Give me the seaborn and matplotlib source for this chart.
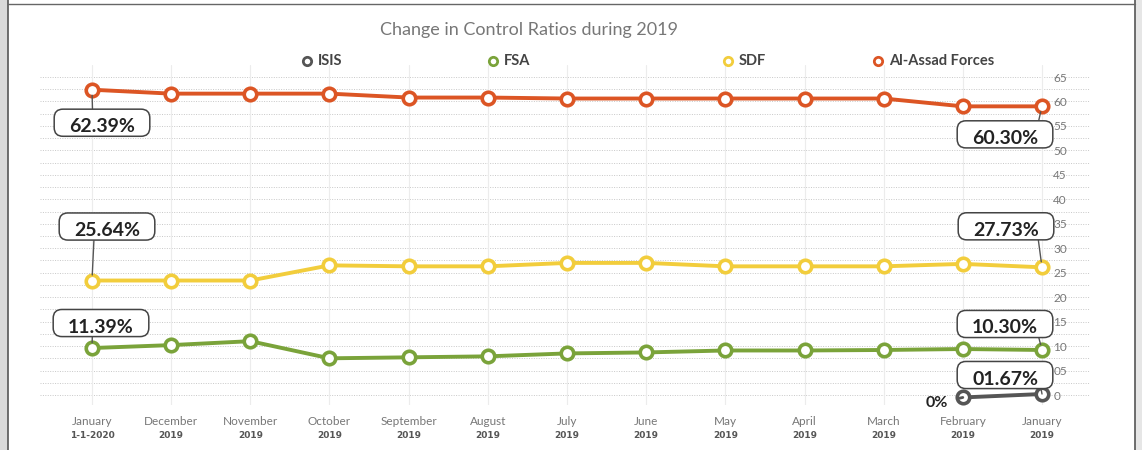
import numpy as np
import pandas as pd
import matplotlib
matplotlib.use("Agg")
import matplotlib.pyplot as plt
from matplotlib.lines import Line2D
from matplotlib.patches import Rectangle
import seaborn as sns

# ---------------- data ----------------
months = ["January", "December", "November", "October", "September", "August",
          "July", "June", "May", "April", "March", "February", "January"]
years = ["1-1-2020", "2019", "2019", "2019", "2019", "2019", "2019",
         "2019", "2019", "2019", "2019", "2019", "2019"]
assad = [62.4, 61.6, 61.6, 61.6, 60.8, 60.8, 60.6, 60.6, 60.6, 60.6, 60.6, 59.0, 59.0]
sdf = [23.4, 23.4, 23.4, 26.5, 26.3, 26.3, 27.0, 27.0, 26.3, 26.3, 26.3, 26.8, 26.1]
fsa = [9.6, 10.2, 11.0, 7.5, 7.7, 7.9, 8.5, 8.7, 9.1, 9.1, 9.2, 9.4, 9.2]
isis = [np.nan] * 11 + [-0.5, 0.2]
series_names = ["ISIS", "FSA", "SDF", "Al-Assad Forces"]
yticks = [0, 5, 10, 15, 20, 25, 30, 35, 40, 45, 50, 55, 60, 65]
ytick_labels = ["0", "05", "10", "15", "20", "25", "30", "35", "40", "45", "50", "55", "60", "65"]
title = "Change in Control Ratios during 2019"

colors = {"ISIS": "#555555", "FSA": "#7aa33a", "SDF": "#f2cd3c", "Al-Assad Forces": "#dc5524"}

rows = []
for name, vals in zip(series_names, [isis, fsa, sdf, assad]):
    for i, v in enumerate(vals):
        if not np.isnan(v):
            rows.append({"x": i, "value": v, "series": name})
df = pd.DataFrame(rows)

# ---------------- figure ----------------
sns.set_theme(style="white")
plt.rcParams["font.family"] = ["Lato", "DejaVu Sans"]

W, H = 1142, 450
fig = plt.figure(figsize=(W / 100, H / 100), dpi=100)
fig.patch.set_facecolor("white")

# frame decoration
fig.add_artist(Rectangle((0, 0), 8 / W, 1, transform=fig.transFigure, facecolor="#d9d9d9", edgecolor="none"))
fig.add_artist(Rectangle((1135 / W, 0), 7 / W, 1, transform=fig.transFigure, facecolor="#e6e6e6", edgecolor="none"))
fig.add_artist(Line2D([8 / W, 8 / W], [0, 1], transform=fig.transFigure, color="#555555", lw=1.2))
fig.add_artist(Line2D([1135 / W, 1135 / W], [0, 1], transform=fig.transFigure, color="#555555", lw=1.2))
fig.add_artist(Line2D([8 / W, 1135 / W], [1 - 4 / H, 1 - 4 / H], transform=fig.transFigure, color="#666666", lw=1.0))

ax_left, ax_right = 40, 1090
ax_top, ax_bottom = 65, 405
ax = fig.add_axes([ax_left / W, 1 - ax_bottom / H, (ax_right - ax_left) / W, (ax_bottom - ax_top) / H])
ax.set_facecolor("none")

px_per_cat = 79.17
ax.set_xlim(-(92 - ax_left) / px_per_cat, 12 + (ax_right - 1042) / px_per_cat)
px_per_unit = (395 - 77) / 65
ax.set_ylim(-(ax_bottom - 395) / px_per_unit, 65 + (77 - ax_top) / px_per_unit)

# grid
for yv in np.arange(0, 66, 2.5):
    ax.axhline(yv, color="#c8c8c8", lw=0.7, ls=(0, (1, 1.5)), zorder=0)
for i in range(len(months)):
    ax.axvline(i, color="#ececec", lw=0.8, zorder=0)

sns.lineplot(data=df, x="x", y="value", hue="series", hue_order=series_names,
             palette=colors, ax=ax, legend=False, sort=False,
             linewidth=2.8, marker="o", markersize=9,
             markerfacecolor="white", markeredgewidth=2.6, zorder=3)
for line in ax.get_lines():
    if line.get_marker() == "o":
        line.set_markeredgecolor(line.get_color())

for s in ax.spines.values():
    s.set_visible(False)

ax.yaxis.tick_right()
ax.set_yticks(yticks)
ax.set_yticklabels(ytick_labels)
ax.tick_params(axis="y", length=0, pad=-26.5, labelsize=8.5, labelcolor="#777777")
for lab in ax.get_yticklabels():
    lab.set_horizontalalignment("left")

ax.set_xticks(range(len(months)))
ax.set_xticklabels(months)
ax.tick_params(axis="x", length=0, pad=8, labelsize=8.5, labelcolor="#777777")
ax.set_xlabel("")
ax.set_ylabel("")
for i, yl in enumerate(years):
    ax.annotate(yl, xy=(i, 0), xycoords=("data", "axes fraction"),
                xytext=(0, -30), textcoords="offset pixels",
                ha="center", va="center", fontsize=6.5, fontweight="bold",
                color="#555555", family=["DejaVu Sans"])

# title
fig.text(529 / W, 1 - 30 / H, title, ha="center", va="center",
         fontsize=13, color="#777777")

# legend (manual)
for name, xm in zip(series_names, [307, 493, 728, 878]):
    fig.add_artist(Line2D([xm / W], [1 - 61 / H], transform=fig.transFigure,
                          marker="o", markersize=6, markerfacecolor="white",
                          markeredgecolor=colors[name], markeredgewidth=2, ls="none"))
    fig.text((xm + 11) / W, 1 - 61 / H, name, ha="left", va="center",
             fontsize=10.5, fontweight="bold", color="#444444")

# value annotations: blank box + connector, then the label text centred in it
renderer = fig.canvas.get_renderer()
def text_width(s):
    t = fig.text(0, 0, s, fontsize=14, fontweight="bold")
    w = t.get_window_extent(renderer).width
    t.remove()
    return w
space_w = (text_width("x" + " " * 20 + "x") - text_width("xx")) / 20
target_w = text_width("  62.39%  ")
blank = " " * int(round(target_w / space_w))

box = dict(boxstyle="round,pad=0.26,rounding_size=0.45", facecolor="white",
           edgecolor="#444444", lw=1.1)
annos = [
    ("62.39%", 0, assad[0], (10, -33), (0.39, 1.0)),
    ("60.30%", 12, assad[12], (-37, -28), (0.88, 1.0)),
    ("25.64%", 0, sdf[0], (15, 54), (0.35, 0.0)),
    ("27.73%", 12, sdf[12], (-36, 41), (0.87, 0.0)),
    ("11.39%", 0, fsa[0], (9, 25), (0.40, 0.0)),
    ("10.30%", 12, fsa[12], (-37, 26), (0.88, 0.0)),
    ("01.67%", 12, isis[12], (-37, 19), (0.91, 0.0)),
]
for txt, xi, yv, off, rel in annos:
    ax.annotate(blank, xy=(xi, yv), xytext=off, textcoords="offset pixels",
                ha="center", va="center", fontsize=14, fontweight="bold", color="none",
                bbox=box, zorder=5,
                arrowprops=dict(arrowstyle="-", color="#555555", lw=1.0, relpos=rel,
                                shrinkA=0, shrinkB=4))
    ax.annotate(txt, xy=(xi, yv), xytext=(off[0], off[1] - 4), textcoords="offset pixels",
                ha="center", va="center", fontsize=14, fontweight="bold", color="#222222",
                zorder=6)
ax.annotate("0%", xy=(11, isis[11]), xytext=(-26, -6), textcoords="offset pixels",
            ha="center", va="center", fontsize=11.5, fontweight="bold", color="#222222",
            arrowprops=dict(arrowstyle="-", color="#555555", lw=2, shrinkA=6, shrinkB=4))

fig.savefig("out.png", dpi=100)
